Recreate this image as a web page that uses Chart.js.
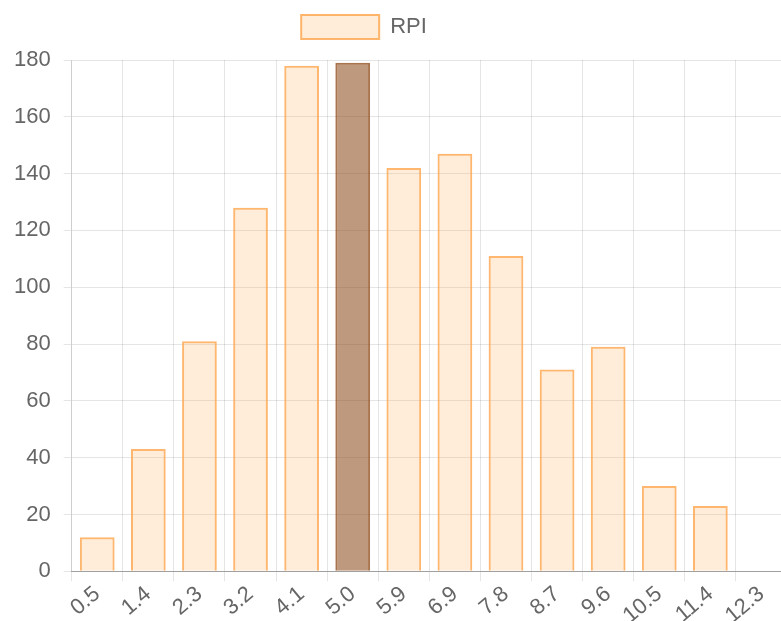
<!DOCTYPE html>
<html>
<head>
<meta charset="utf-8">
<script src="https://cdn.jsdelivr.net/npm/chart.js@4/dist/chart.umd.min.js"></script>
<style>
  html, body { margin: 0; padding: 0; background: #fff; overflow: hidden; }
  #wrap { width: 792px; height: 621px; }
</style>
</head>
<body>
<div id="wrap"><canvas id="canvas"></canvas></div>
<script>
var labels = ['0.5', '1.4', '2.3', '3.2', '4.1', '5.0', '5.9', '6.9', '7.8', '8.7', '9.6', '10.5', '11.4', '12.3'];
var rpiValues = [12, 43, 81, 128, 178, 179, 142, 147, 111, 71, 79, 30, 23, 0];
var highlightIndex = 5;

var fills = [];
var borders = [];
for (var i = 0; i < labels.length; i++) {
    if (i == highlightIndex) {
        fills.push('rgba(139,69,19,0.55)');
        borders.push('rgba(139,69,19,0.75)');
    } else {
        fills.push('rgba(255,159,64,0.2)');
        borders.push('rgba(255,159,64,0.75)');
    }
}

Chart.defaults.font.family = '"Liberation Sans", Arial, sans-serif';
Chart.defaults.font.size = 22;
Chart.defaults.color = '#666';

// move the legend a bit left and leave more room under it
var legendTweak = {
    id: 'legendTweak',
    beforeLayout: function(chart) {
        var lg = chart.legend;
        if (lg && !lg._patched) {
            var fit = lg.fit;
            lg.fit = function() {
                fit.call(this);
                this.height += 11;
            };
            lg._patched = true;
        }
    },
    afterLayout: function(chart) {
        var lg = chart.legend;
        if (lg) {
            lg.left -= 30;
            lg.right -= 30;
        }
    }
};

var config = {
    type: 'bar',
    data: {
        labels: labels,
        datasets: [{
            label: 'RPI',
            data: rpiValues,
            backgroundColor: fills,
            borderColor: borders,
            borderWidth: 2,
            barPercentage: 0.85
        }]
    },
    options: {
        responsive: true,
        maintainAspectRatio: false,
        animation: false,
        layout: { padding: { left: 1, right: 5, top: 3, bottom: -8 } },
        plugins: {
            legend: {
                display: true,
                labels: {
                    boxWidth: 78,
                    boxHeight: 24,
                    padding: 12,
                    generateLabels: function(chart) {
                        return [{
                            text: 'RPI',
                            fillStyle: 'rgba(255,159,64,0.2)',
                            strokeStyle: 'rgba(255,159,64,0.75)',
                            lineWidth: 2,
                            fontColor: '#666',
                            datasetIndex: 0
                        }];
                    }
                }
            },
            tooltip: { enabled: false }
        },
        scales: {
            x: {
                grid: { color: 'rgba(0,0,0,0.1)', offset: true, tickLength: 10 },
                border: { color: 'rgba(0,0,0,0.3)' },
                ticks: { minRotation: 40, maxRotation: 40, padding: 0 }
            },
            y: {
                min: 0,
                max: 180,
                grid: { color: 'rgba(0,0,0,0.1)', tickLength: 8 },
                border: { color: 'rgba(0,0,0,0.1)' },
                ticks: { stepSize: 20, padding: 13 }
            }
        }
    },
    plugins: [legendTweak]
};

window.onload = function() {
    var ctx = document.getElementById('canvas').getContext('2d');
    window.myBar = new Chart(ctx, config);
};
</script>
</body>
</html>
